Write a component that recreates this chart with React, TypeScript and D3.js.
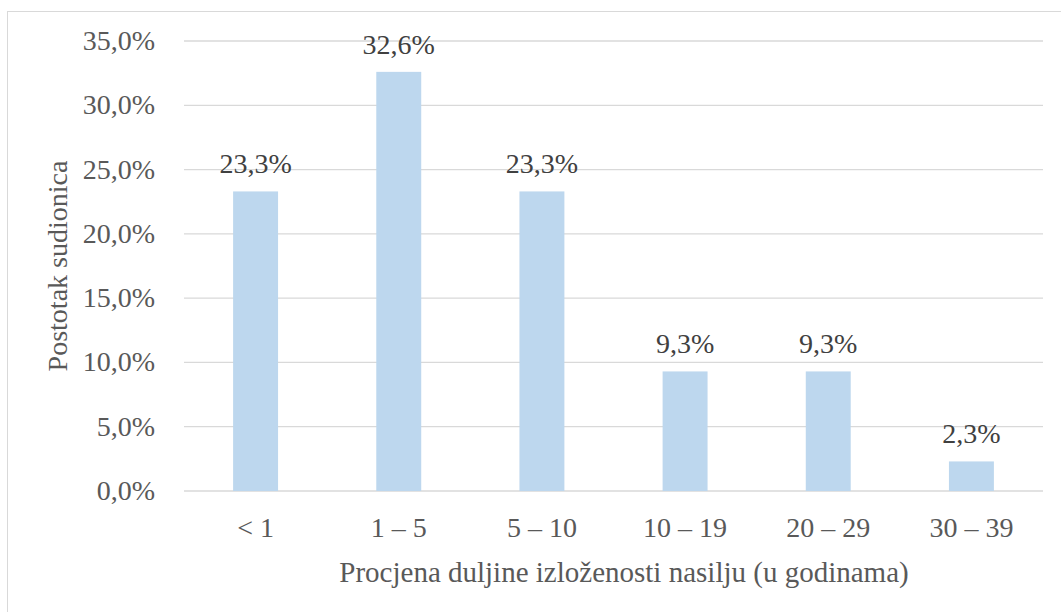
import React from "react";
import * as d3 from "d3";

const width = 1061;
const height = 612;
const margin = { top: 41, right: 18, bottom: 121, left: 184 };

// chart data
const categories = ["< 1", "1 – 5", "5 – 10", "10 – 19", "20 – 29", "30 – 39"];
const values = [23.3, 32.6, 23.3, 9.3, 9.3, 2.3];
const yTicks = [0, 5, 10, 15, 20, 25, 30, 35];
const xTitle = "Procjena duljine izloženosti nasilju (u godinama)";
const yTitle = "Postotak sudionica";

const fmt = (v: number) => v.toFixed(1).replace(".", ",") + "%";

export default function App() {
  const xScale = d3
    .scaleBand<string>()
    .domain(categories)
    .range([margin.left, width - margin.right]);
  const yScale = d3
    .scaleLinear()
    .domain([0, 35])
    .range([height - margin.bottom, margin.top]);

  const barW = xScale.bandwidth() * 0.314;

  return (
    <svg
      width={width}
      height={height}
      fontFamily="Liberation Serif"
      fontSize={28}
      style={{ position: "absolute", left: 0, top: 0, background: "#fff" }}
    >
      <rect x={7.5} y={11.5} width={1070} height={700} fill="#fff" stroke="#d9d9d9" />
      {yTicks.map(t => (
        <g key={t}>
          <line
            x1={margin.left}
            x2={width - margin.right}
            y1={yScale(t)}
            y2={yScale(t)}
            stroke="#d9d9d9"
            strokeWidth={1.3}
          />
          <text x={155} y={yScale(t) + 9} textAnchor="end" fill="#595959">
            {fmt(t)}
          </text>
        </g>
      ))}
      {categories.map((c, i) => {
        const cx = (xScale(c) as number) + xScale.bandwidth() / 2;
        return (
          <g key={c}>
            <rect
              x={cx - barW / 2}
              y={yScale(values[i])}
              width={barW}
              height={yScale(0) - yScale(values[i])}
              fill="#bdd7ee"
            />
            <text x={cx} y={yScale(values[i]) - 18} textAnchor="middle" fill="#404040">
              {fmt(values[i])}
            </text>
            <text x={cx} y={537} textAnchor="middle" fill="#595959">
              {c}
            </text>
          </g>
        );
      })}
      <text x={624} y={582} textAnchor="middle" fontSize={29} fill="#595959">
        {xTitle}
      </text>
      <text transform="translate(67,266) rotate(-90)" textAnchor="middle" fill="#595959">
        {yTitle}
      </text>
    </svg>
  );
}
